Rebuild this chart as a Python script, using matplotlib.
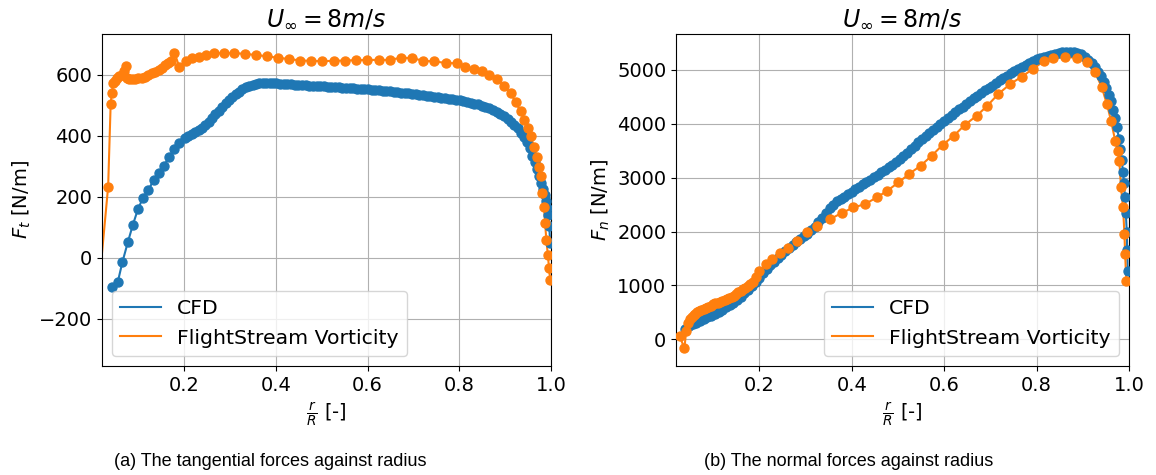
import matplotlib.pyplot as plt

# tangential force, CFD
cfd_t_r = [0.042, 0.055, 0.065, 0.077, 0.088, 0.099, 0.110, 0.122, 0.133, 0.144,
           0.156, 0.166, 0.178, 0.188, 0.201, 0.209, 0.216, 0.224, 0.232, 0.239,
           0.246, 0.254, 0.261, 0.268, 0.276, 0.283, 0.290, 0.298, 0.305, 0.312,
           0.320, 0.327, 0.334, 0.341, 0.349, 0.356, 0.363, 0.371, 0.378, 0.386,
           0.393, 0.401, 0.409, 0.417, 0.425, 0.433, 0.441, 0.449, 0.457, 0.465,
           0.473, 0.481, 0.489, 0.497, 0.505, 0.513, 0.521, 0.529, 0.537, 0.545,
           0.553, 0.561, 0.569, 0.577, 0.585, 0.593, 0.601, 0.609, 0.617, 0.625,
           0.633, 0.641, 0.649, 0.657, 0.665, 0.673, 0.681, 0.689, 0.697, 0.705,
           0.713, 0.721, 0.729, 0.737, 0.745, 0.753, 0.761, 0.769, 0.777, 0.785,
           0.793, 0.801, 0.809, 0.817, 0.825, 0.833, 0.841, 0.849, 0.857, 0.865,
           0.873, 0.881, 0.889, 0.897, 0.905, 0.913, 0.920, 0.927, 0.934, 0.941,
           0.947, 0.953, 0.959, 0.964, 0.969, 0.974, 0.978, 0.982, 0.986, 0.989,
           0.992, 0.994, 0.996, 0.998]
cfd_t = [-95, -80, -15, 51, 108, 159, 196, 222, 254, 277,
         301, 329, 355, 377, 392, 400, 406, 412, 419, 426,
         434, 445, 457, 470, 482, 494, 506, 517, 528, 537,
         544, 552, 559, 564, 567, 570, 572, 572, 572, 572,
         572, 571, 570, 570, 569, 568, 567, 566, 565, 565,
         564, 563, 562, 561, 561, 560, 559, 559, 558, 557,
         557, 556, 555, 554, 554, 553, 552, 551, 550, 549,
         547, 546, 545, 544, 542, 541, 540, 538, 537, 535,
         534, 532, 531, 529, 527, 526, 524, 522, 520, 519,
         517, 515, 513, 510, 508, 505, 502, 498, 494, 489,
         484, 478, 472, 464, 455, 445, 435, 424, 410, 395,
         378, 358, 334, 313, 290, 266, 245, 226, 205, 185,
         162, 140, 105, 48]

# tangential force, FlightStream
fs_t_r = [0.0, 0.034, 0.0395, 0.042, 0.0454, 0.049, 0.0526, 0.058, 0.0636, 0.068,
          0.0724, 0.0746, 0.080, 0.0855, 0.093, 0.100, 0.108, 0.115, 0.122, 0.129,
          0.137, 0.144, 0.151, 0.159, 0.165, 0.170, 0.1785, 0.189, 0.203, 0.217,
          0.232, 0.2465, 0.265, 0.287, 0.309, 0.332, 0.356, 0.380, 0.404, 0.428,
          0.453, 0.477, 0.501, 0.526, 0.550, 0.575, 0.5995, 0.624, 0.648, 0.6726,
          0.697, 0.7215, 0.7456, 0.7706, 0.795, 0.813, 0.831, 0.8496, 0.864, 0.882,
          0.897, 0.9116, 0.9226, 0.9336, 0.942, 0.9496, 0.9555, 0.963, 0.9687, 0.974,
          0.9774, 0.981, 0.9846, 0.987, 0.9897, 0.993, 0.9956, 0.998]
fs_t = [-320, 233, 504, 541, 572, 580, 588, 594, 599, 610,
        628, 588, 585, 586, 587, 588, 590, 593, 598, 604,
        609, 615, 623, 632, 638, 643, 672, 626, 643, 654,
        659, 665, 670, 670, 670, 668, 664, 660, 655, 651,
        646, 645, 644, 645, 646, 647, 648, 648, 648, 655,
        654, 645, 643, 638, 637, 624, 618, 610, 599, 585,
        563, 539, 511, 479, 451, 424, 397, 364, 331, 298,
        266, 211, 167, 113, 58, 9, -35, -73]

# normal force, CFD
cfd_n_r = [0.040, 0.048, 0.056, 0.064, 0.072, 0.080, 0.088, 0.096, 0.104, 0.112,
           0.120, 0.128, 0.136, 0.144, 0.152, 0.160, 0.168, 0.176, 0.184, 0.192,
           0.200, 0.208, 0.216, 0.224, 0.232, 0.240, 0.248, 0.256, 0.264, 0.272,
           0.280, 0.288, 0.296, 0.304, 0.312, 0.320, 0.328, 0.336, 0.344, 0.352,
           0.360, 0.368, 0.376, 0.384, 0.392, 0.400, 0.408, 0.416, 0.424, 0.432,
           0.440, 0.448, 0.456, 0.464, 0.472, 0.480, 0.488, 0.496, 0.504, 0.512,
           0.520, 0.528, 0.536, 0.544, 0.552, 0.560, 0.568, 0.576, 0.584, 0.592,
           0.600, 0.608, 0.616, 0.624, 0.632, 0.640, 0.648, 0.656, 0.664, 0.672,
           0.680, 0.688, 0.696, 0.704, 0.712, 0.720, 0.728, 0.736, 0.744, 0.752,
           0.760, 0.768, 0.776, 0.784, 0.792, 0.800, 0.808, 0.816, 0.824, 0.832,
           0.840, 0.848, 0.856, 0.864, 0.872, 0.880, 0.888, 0.896, 0.904, 0.912,
           0.919, 0.926, 0.933, 0.939, 0.945, 0.951, 0.956, 0.961, 0.966, 0.970,
           0.974, 0.978, 0.981, 0.984, 0.987, 0.989, 0.991, 0.993, 0.995, 0.996,
           0.997]
cfd_n = [200, 250, 280, 310, 340, 375, 405, 435, 470, 510,
         550, 590, 635, 680, 730, 790, 850, 920, 995, 1070,
         1145, 1225, 1300, 1370, 1440, 1505, 1570, 1630, 1690, 1750,
         1805, 1860, 1910, 1960, 2020, 2090, 2170, 2260, 2350, 2430,
         2500, 2560, 2605, 2650, 2695, 2740, 2785, 2830, 2875, 2920,
         2965, 3010, 3055, 3100, 3145, 3190, 3240, 3290, 3345, 3405,
         3465, 3525, 3590, 3655, 3715, 3775, 3830, 3890, 3945, 4000,
         4045, 4100, 4160, 4215, 4270, 4320, 4375, 4425, 4475, 4525,
         4575, 4620, 4665, 4710, 4760, 4805, 4850, 4895, 4940, 4980,
         5020, 5060, 5095, 5130, 5165, 5195, 5220, 5245, 5265, 5285,
         5300, 5315, 5325, 5335, 5340, 5335, 5320, 5290, 5240, 5190,
         5130, 5060, 4970, 4880, 4780, 4670, 4540, 4420, 4260, 4100,
         3940, 3720, 3530, 3330, 3100, 2900, 2650, 2350, 2000, 1650,
         1270]

# normal force, FlightStream
fs_n_r = [0.028, 0.038, 0.042, 0.046, 0.050, 0.054, 0.058, 0.062, 0.066, 0.070,
          0.075, 0.080, 0.085, 0.090, 0.095, 0.100, 0.105, 0.110, 0.115, 0.120,
          0.125, 0.130, 0.135, 0.140, 0.145, 0.150, 0.155, 0.160, 0.165, 0.170,
          0.175, 0.180, 0.186, 0.193, 0.200, 0.214, 0.227, 0.245, 0.263, 0.281,
          0.3025, 0.324, 0.353, 0.378, 0.4035, 0.429, 0.454, 0.477, 0.501, 0.525,
          0.549, 0.573, 0.597, 0.621, 0.645, 0.6705, 0.6935, 0.717, 0.743, 0.768,
          0.792, 0.815, 0.8365, 0.862, 0.887, 0.909, 0.927, 0.941, 0.952, 0.961,
          0.970, 0.975, 0.979, 0.9825, 0.987, 0.990, 0.9915, 0.994]
fs_n = [60, -170, 150, 300, 372, 410, 445, 475, 500, 520,
        540, 560, 580, 600, 625, 650, 665, 680, 695, 710,
        725, 743, 760, 785, 810, 840, 870, 900, 930, 960,
        990, 1022, 1070, 1150, 1270, 1394, 1487, 1593, 1704, 1828,
        1983, 2106, 2230, 2342, 2448, 2509, 2634, 2757, 2912, 3074,
        3222, 3407, 3611, 3779, 3983, 4151, 4337, 4554, 4740, 4876,
        5019, 5162, 5223, 5247, 5223, 5143, 4957, 4678, 4368, 4058,
        3686, 3500, 3314, 2820, 2448, 1952, 1580, 1084]

blue = '#1f77b4'
orange = '#ff7f0e'

fig = plt.figure(figsize=(11.56, 4.75), dpi=100)
ax1 = fig.add_axes([0.088, 0.2295, 0.3887, 0.699])
ax2 = fig.add_axes([0.5848, 0.2295, 0.3919, 0.699])

panels = [
    (ax1, cfd_t_r, cfd_t, fs_t_r, fs_t, r'$F_t$ [N/m]', (-355, 733), 'lower left'),
    (ax2, cfd_n_r, cfd_n, fs_n_r, fs_n, r'$F_n$ [N/m]', (-496, 5669), 'lower right'),
]
for ax, r1, y1, r2, y2, ylab, ylim, loc in panels:
    ax.plot(r1, y1, color=blue, lw=1.5, label='CFD')
    ax.plot(r2, y2, color=orange, lw=1.5, label='FlightStream Vorticity')
    ax.scatter(r1, y1, s=42, color=blue, zorder=3)
    ax.scatter(r2, y2, s=42, color=orange, zorder=4)
    ax.set_xlim(0.02, 1.0)
    ax.set_ylim(*ylim)
    ax.set_title(r'$U_{\infty} = 8m/s$', fontsize=17)
    ax.set_xlabel(r'$\frac{r}{R}$ [-]', fontsize=14)
    ax.set_ylabel(ylab, fontsize=14)
    ax.tick_params(labelsize=14)
    ax.grid(True, color='#b0b0b0', lw=0.8)
    ax.legend(loc=loc, fontsize=14.7)

ax1.set_xticks([0.2, 0.4, 0.6, 0.8, 1.0])
ax2.set_xticks([0.2, 0.4, 0.6, 0.8, 1.0])

cap = ['Liberation Sans', 'DejaVu Sans']
fig.text(0.234, 0.029, '(a) The tangential forces against radius', ha='center', va='center',
         fontsize=13, family=cap)
fig.text(0.734, 0.029, '(b) The normal forces against radius', ha='center', va='center',
         fontsize=13, family=cap)

fig.savefig('out.png', dpi=100)
